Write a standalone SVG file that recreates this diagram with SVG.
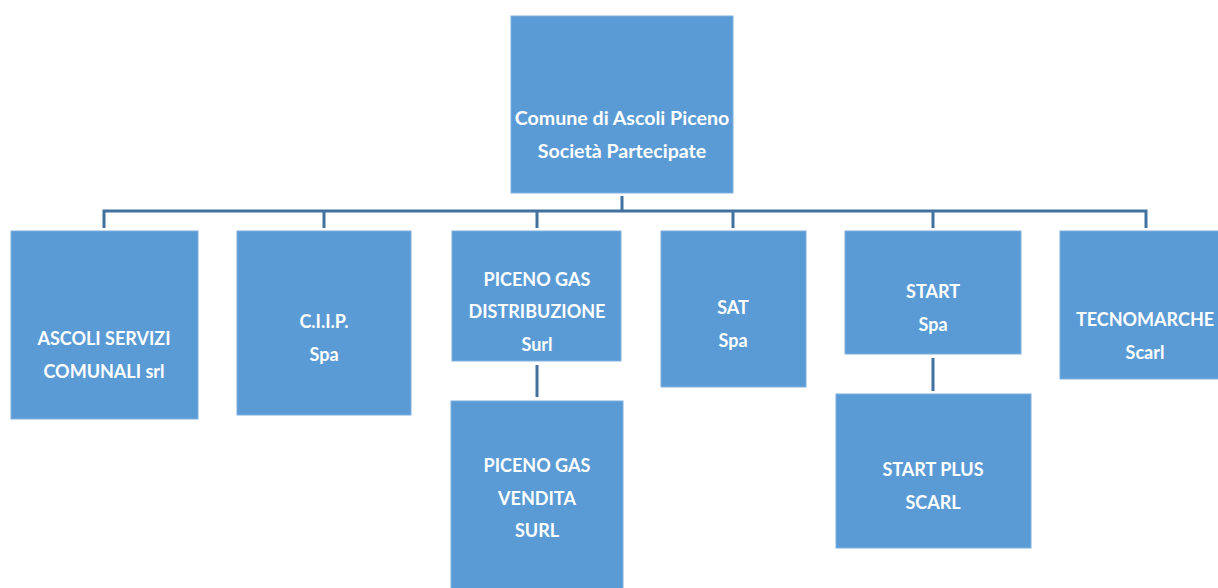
<svg xmlns="http://www.w3.org/2000/svg" width="1218" height="588" viewBox="0 0 1218 588">
<style>
.box{fill:#5b9bd5;stroke:#7fb0de;stroke-width:1}
.lbl{fill:#ffffff;font-family:Lato,"Open Sans","Liberation Sans",sans-serif;font-weight:bold;font-size:18px;text-anchor:middle}
.big{font-size:19.6px}
.conn{stroke:#41729f;stroke-width:3;fill:none}
</style>
<rect width="1218" height="588" fill="#ffffff"/>
<g id="connectors">
<path class="conn" d="M622,196 V211 M104,228 V211 H1146 V228 M324,211 V228 M537,211 V228 M733,211 V228 M933,211 V228"/>
<path class="conn" d="M537,365 V397 M933,358 V391"/>
</g>
<g id="root">
<rect class="box" x="511" y="16" width="222" height="177"/>
<text class="lbl big" x="622" y="125">Comune di Ascoli Piceno</text>
<text class="lbl big" x="622" y="158">Società Partecipate</text>
</g>
<g id="ascoli-servizi">
<rect class="box" x="11" y="231" width="187" height="188"/>
<text class="lbl" x="104" y="345">ASCOLI SERVIZI</text>
<text class="lbl" x="104" y="378">COMUNALI srl</text>
</g>
<g id="ciip">
<rect class="box" x="237" y="231" width="174" height="184"/>
<text class="lbl" x="324" y="328">C.I.I.P.</text>
<text class="lbl" x="324" y="361">Spa</text>
</g>
<g id="piceno-gas-distribuzione">
<rect class="box" x="452" y="231" width="169" height="130"/>
<text class="lbl" x="537" y="286">PICENO GAS</text>
<text class="lbl" x="537" y="318">DISTRIBUZIONE</text>
<text class="lbl" x="537" y="351">Surl</text>
</g>
<g id="piceno-gas-vendita">
<rect class="box" x="451" y="401" width="172" height="200"/>
<text class="lbl" x="537" y="472">PICENO GAS</text>
<text class="lbl" x="537" y="505">VENDITA</text>
<text class="lbl" x="537" y="537">SURL</text>
</g>
<g id="sat">
<rect class="box" x="661" y="231" width="145" height="156"/>
<text class="lbl" x="733" y="314">SAT</text>
<text class="lbl" x="733" y="347">Spa</text>
</g>
<g id="start">
<rect class="box" x="845" y="231" width="176" height="123"/>
<text class="lbl" x="933" y="298">START</text>
<text class="lbl" x="933" y="331">Spa</text>
</g>
<g id="start-plus">
<rect class="box" x="836" y="394" width="195" height="154"/>
<text class="lbl" x="933" y="476">START PLUS</text>
<text class="lbl" x="933" y="509">SCARL</text>
</g>
<g id="tecnomarche">
<rect class="box" x="1060" y="231" width="170" height="148"/>
<text class="lbl" x="1145" y="326">TECNOMARCHE</text>
<text class="lbl" x="1145" y="359">Scarl</text>
</g>
</svg>
